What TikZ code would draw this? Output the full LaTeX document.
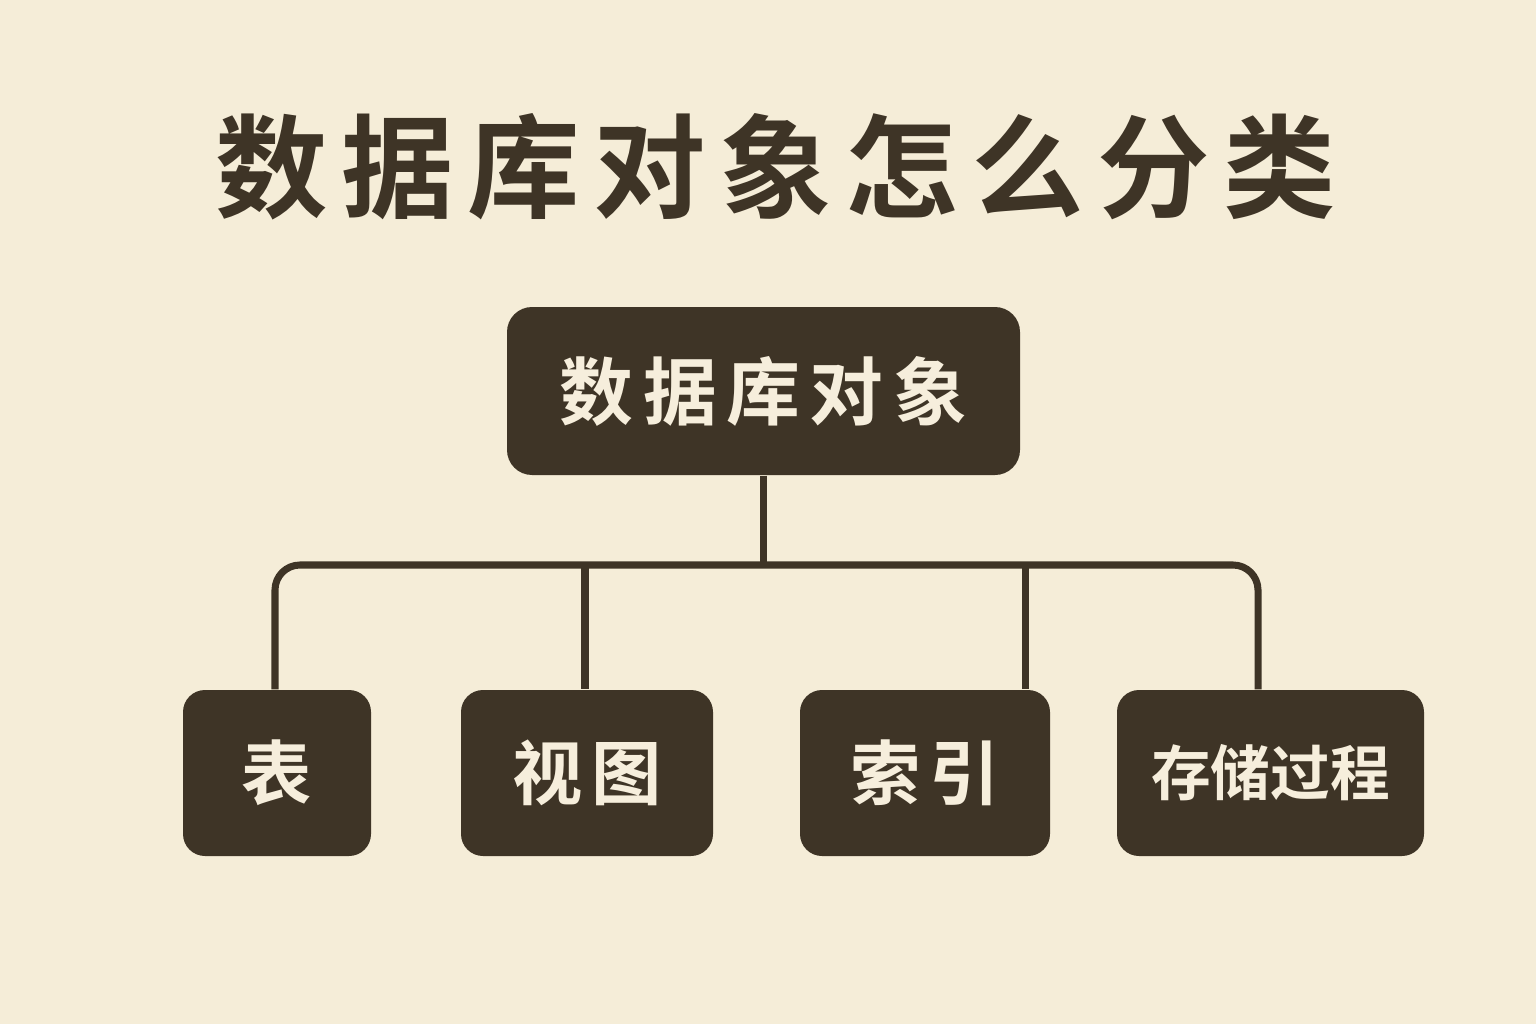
\documentclass[tikz,border=0pt]{standalone}
\usepackage{fontspec}
\usepackage{xcolor}
\usepackage{tikz}
\usetikzlibrary{positioning}
\newfontfamily\cjk{Noto Sans CJK SC}[BoldFont=* Bold]
\definecolor{dbpaper}{HTML}{F5EDD8}
\definecolor{dbdark}{HTML}{3E3426}
\definecolor{dbcream}{HTML}{F6EEDC}
\tikzset{%
  dbroot/.style={%
    fill=dbdark,
    draw=none,
    rounded corners=0.25cm,
    text=dbcream,
    minimum width=5.13cm,
    minimum height=1.68cm,
    inner sep=0pt,
    font=\cjk\bfseries\fontsize{21pt}{24pt}\selectfont\addfontfeatures{LetterSpace=13}
  },
  dbleaf/.style={%
    dbroot,
    rounded corners=0.22cm,
    minimum height=1.66cm,
    font=\cjk\bfseries\fontsize{20pt}{24pt}\selectfont\addfontfeatures{LetterSpace=12}
  },
  dblink/.style={draw=dbdark,line width=2pt,rounded corners=0.25cm}
}
\begin{document}
\begin{tikzpicture}
    \fill[dbpaper] (0,0) rectangle (15.36,10.24);
    \useasboundingbox (0,0) rectangle (15.36,10.24);

    \node[text=dbdark,font=\cjk\bfseries\fontsize{32pt}{36pt}\selectfont\addfontfeatures{LetterSpace=12}] (title) at (7.76,8.57) {数据库对象怎么分类};

    \node[dbroot] (root) at (7.635,6.33) {数据库对象};
    \node[dbleaf,minimum width=1.88cm] (tbl) at (2.77,2.51) {表};
    \node[dbleaf,minimum width=2.52cm] (view) at (5.87,2.51) {视图};
    \node[dbleaf,minimum width=2.50cm] (idx) at (9.25,2.51) {索引};
    \node[dbleaf,minimum width=3.07cm,font=\cjk\bfseries\fontsize{17pt}{20pt}\selectfont] (proc) at (12.705,2.51) {存储过程};

    \coordinate (busL) at (2.75,4.59);
    \coordinate (busB) at (5.85,4.59);
    \coordinate (busC) at (10.25,4.59);
    \coordinate (busR) at (12.58,4.59);

    \draw[dblink] (root.south) -- (root.south |- busL);
    \draw[dblink] (busL |- tbl.north) -- (busL) -- (busR) -- (busR |- proc.north);
    \draw[dblink] (busB) -- (busB |- view.north);
    \draw[dblink] (busC) -- (busC |- idx.north);
  \end{tikzpicture}
\end{document}
